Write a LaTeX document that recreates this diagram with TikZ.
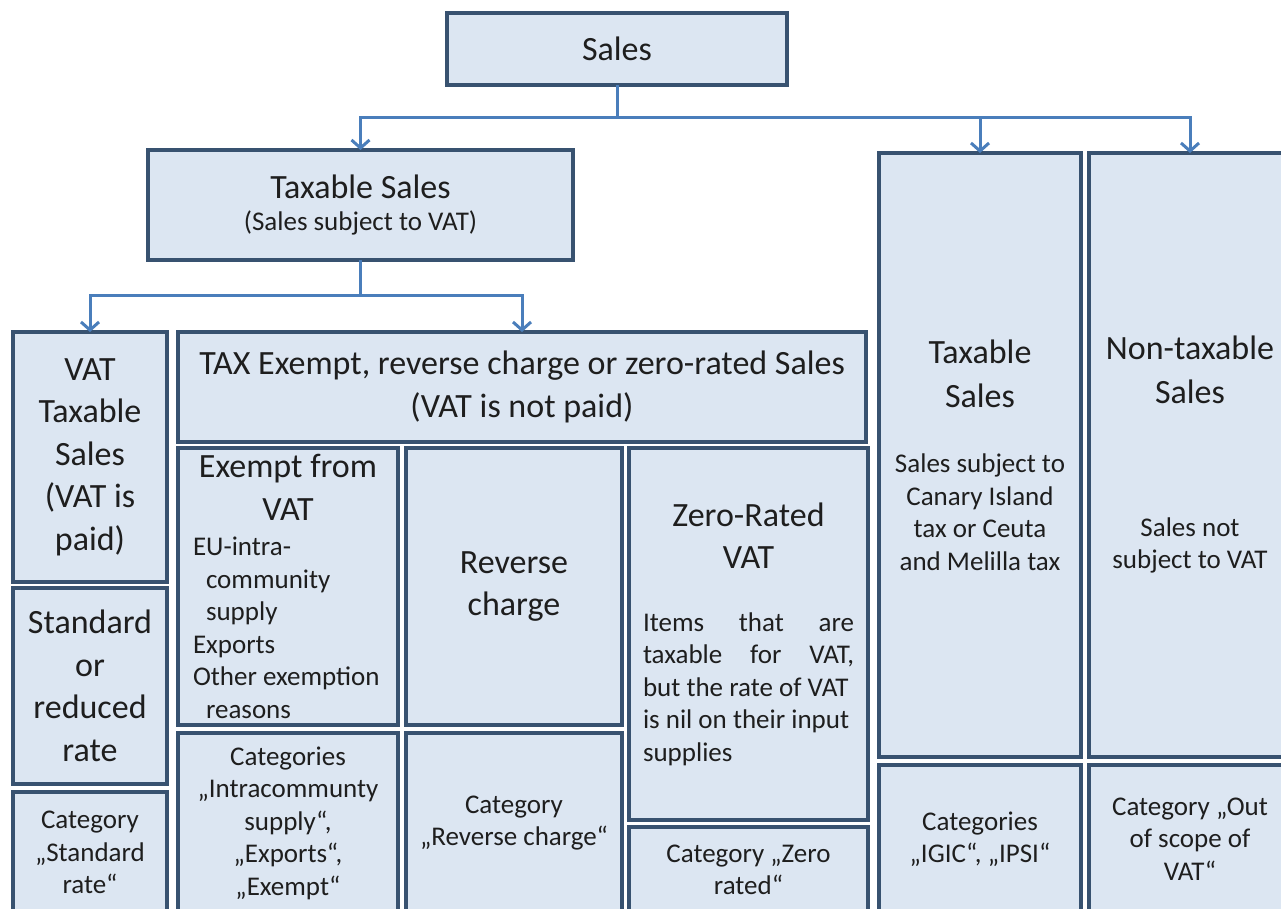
\documentclass[tikz,border=0pt]{standalone}
\usepackage{fontspec}
\setmainfont{Carlito}
\usepackage{tikz}
\usetikzlibrary{arrows.meta,arrows}
\usetikzlibrary{positioning}
\usetikzlibrary{calc}
\usepackage{color}

\definecolor{boxfill}{RGB}{220,230,242}
\definecolor{boxline}{RGB}{56,82,112}
\definecolor{linkblue}{RGB}{74,126,187}
\definecolor{textgray}{RGB}{30,30,30}
\newcommand{\bigtxt}{\fontsize{34}{42.5}\selectfont}
\newcommand{\smalltxt}{\fontsize{27}{32.5}\selectfont}

\begin{document}
\begin{tikzpicture}[x=1pt,y=-1pt]
\tikzstyle{box node}=[rectangle,draw=boxline,fill=boxfill,line width=4pt,inner sep=0pt,outer sep=0pt,align=center,text=textgray]
\tikzstyle{head node}=[box node,font=\bigtxt]
\tikzstyle{cat node}=[box node,font=\smalltxt]
\tikzset{
  link/.style = {draw=linkblue,line width=3pt},
  down/.style = {link,-{Straight Barb[length=8pt,width=18pt]}}
}
\useasboundingbox (0,0) rectangle (1281,909);
\fill[white] (0,0) rectangle (1281,909);
\clip (0,0) rectangle (1281,909);

    \node[head node,minimum width=340pt,minimum height=72pt] (sales) at (617,49) {Sales};
    \node[cat node,minimum width=425pt,minimum height=110pt] (tax) at (360.5,205) {{\bigtxt Taxable Sales}\\(Sales subject to VAT)};
    %%%%%%%%%%%%%%%%%%%%%%%%%%%%%%%%%%
    \node[head node,minimum width=154pt,minimum height=250pt] (vatpaid) at (90,457) {VAT\\Taxable\\Sales\\(VAT is\\paid)};
    \node[head node,minimum width=154pt,minimum height=196pt] (stdrate) [below=6pt of vatpaid] {Standard\\or\\reduced\\rate};
    \node[cat node,minimum width=154pt,minimum height=121pt] (catstd) [below=8pt of stdrate] {Category\\„Standard\\rate“};

    \node[head node,minimum width=688pt,minimum height=110pt] (notpaid) [right=11pt of vatpaid.north east,anchor=north west] {TAX Exempt, reverse charge or zero-rated Sales\\(VAT is not paid)};
    \node[cat node,minimum width=220pt,minimum height=277pt] (exempt) [below=6pt of notpaid.south west,anchor=north west]
      {\parbox{190pt}{{\centering\bigtxt Exempt from\\VAT\par}\vspace{3pt}%
       {\raggedright\smalltxt EU-intra-\\\hspace*{13pt}community\\\hspace*{13pt}supply\\Exports\\Other exemption\\\hspace*{13pt}reasons\par}}};
    \node[cat node,minimum width=220pt,minimum height=180pt] (catexm) [below=8pt of exempt] {Categories\\„Intracommunty\\supply“,\\„Exports“,\\„Exempt“};
    \node[head node,minimum width=216pt,minimum height=277pt] (revchg) [right=8pt of exempt.north east,anchor=north west] {Reverse\\charge};
    \node[cat node,minimum width=216pt,minimum height=180pt] (catrev) [below=8pt of revchg] {Category\\„Reverse charge“};
    \node[cat node,minimum width=239pt,minimum height=372pt] (zero) [right=7pt of revchg.north east,anchor=north west]
      {\parbox{211pt}{{\centering\bigtxt Zero-Rated\\VAT\par}\vspace{30pt}%
       \smalltxt Items\hfill that\hfill are\\taxable\hfill for\hfill VAT,\\but the rate of VAT\\is nil on their input\\supplies\par}};
    \node[cat node,minimum width=239pt,minimum height=86pt] (catzero) [below=7pt of zero] {Category „Zero\\rated“};
    %%%%%%%%%%%%%%%%%%%%%%%%%%%%%%%%%%
    \node[cat node,minimum width=202pt,minimum height=604pt] (rtax) at (980,455)
      {{\bigtxt Taxable}\\[11.5pt]{\bigtxt Sales}\\[33pt]Sales subject to\\Canary Island\\tax or Ceuta\\and Melilla tax};
    \node[cat node,minimum width=202pt,minimum height=148pt] (catigic) [below=8pt of rtax] {Categories\\„IGIC“, „IPSI“};
    \node[cat node,minimum width=202pt,minimum height=604pt] (nontax) [right=8pt of rtax]
      {{\bigtxt Non-taxable}\\[11.5pt]{\bigtxt Sales}\\[100pt]Sales not\\subject to VAT};
    \node[cat node,minimum width=202pt,minimum height=148pt] (catout) [below=8pt of nontax] {Category „Out\\of scope of\\VAT“};

    \coordinate (bus1) at (617,118);
    \coordinate (bus2) at (360.5,295);
    \foreach \n in {tax,rtax,nontax}
      \draw[down] (sales.south) -- (bus1) -| (\n.north);
    \foreach \n in {vatpaid,notpaid}
      \draw[down] (tax.south) -- (bus2) -| (\n.north);
\end{tikzpicture}
\end{document}
